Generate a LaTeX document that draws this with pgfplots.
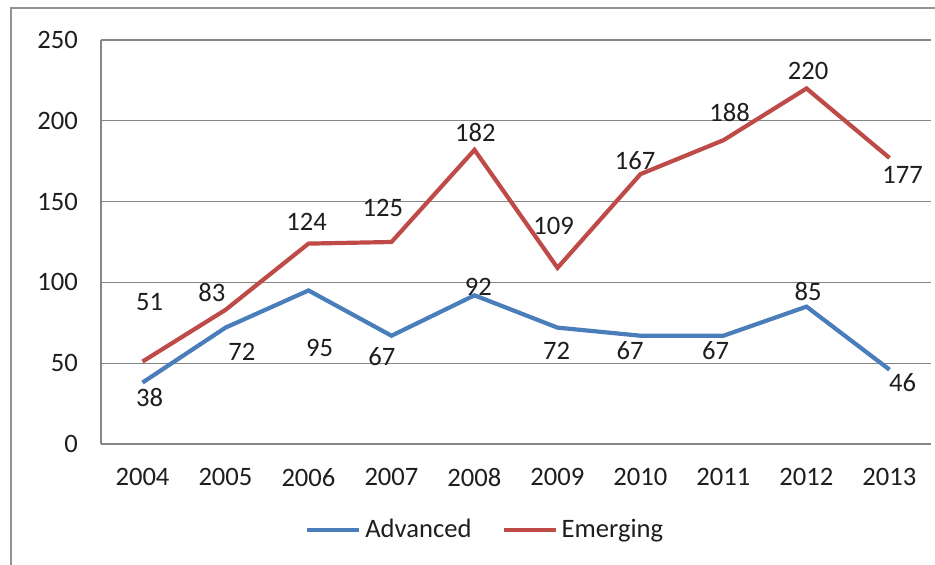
\documentclass[border=0pt]{standalone}
\usepackage{pgfplots}
\pgfplotsset{compat=1.18}
\usepackage{fontspec}
\setmainfont{Carlito}
\definecolor{advblue}{RGB}{74,126,187}
\definecolor{emred}{RGB}{190,75,72}
\definecolor{gridgray}{RGB}{134,134,134}
\definecolor{txt}{RGB}{30,30,30}
\begin{document}
\begin{tikzpicture}
\useasboundingbox (-50.5pt,-60.5pt) rectangle (417pt,222pt);
\draw[gridgray!90, line width=1.2pt] (-45pt,-70pt) -- (-45pt,218pt) -- (430pt,218pt);
\begin{axis}[
  at={(0pt,0pt)}, anchor=south west,
  scale only axis,
  width=415pt, height=202pt,
  xmin=2003.5, xmax=2013.5,
  ymin=0, ymax=250,
  xtick={2004,...,2013},
  ytick={0,50,...,250},
  xticklabel style={/pgf/number format/1000 sep={}, yshift=-8.5pt},
  yticklabel style={xshift=-8pt},
  /pgf/number format/assume math mode=true,
  tick label style={font=\fontsize{13.3}{16}\selectfont, text=txt},
  major tick length=0pt,
  ymajorgrids,
  grid style={gridgray, line width=0.6pt},
  axis x line*=bottom, axis y line*=left,
  axis line style={gridgray, line width=0.8pt, -},
  legend style={at={(axis description cs:0.464,-0.213)}, anchor=center, draw=none, fill=none,
    font=\fontsize{13.3}{16}\selectfont, text=txt, legend columns=2,
    /tikz/every even column/.append style={column sep=13pt}, inner sep=0pt},
  legend image code/.code={\draw[#1] (0pt,0pt) -- (26pt,0pt);},
  nodes near coords,
  visualization depends on={\thisrow{dx} \as \dx},
  visualization depends on={\thisrow{dy} \as \dy},
  every node near coord/.append style={anchor=center, xshift=\dx pt, yshift=\dy pt,
    font=\fontsize{13.3}{16}\selectfont, text=txt},
  point meta=explicit symbolic,
]
\addplot[advblue, line width=2.1pt, no markers] table[meta=lab] {
x y dx dy lab
2004 38 3.5 -7.7 38
2005 72 8.2 -12.2 72
2006 95 5.5 -28.7 95
2007 67 -4.8 -10.6 67
2008 92 1.9 4.2 92
2009 72 -0.4 -11.7 72
2010 67 -5.2 -7.6 67
2011 67 -4 -7.6 67
2012 85 0.8 7.8 85
2013 46 6.5 -6.6 46
};
\addlegendentry{Advanced}
\addplot[emred, line width=2.1pt, no markers] table[meta=lab] {
x y dx dy lab
2004 51 3.5 29.8 51
2005 83 -6.8 8.5 83
2006 124 -1 10.8 124
2007 125 -4.3 17 125
2008 182 0.4 8.5 182
2009 109 -1.9 21 109
2010 167 -2.7 7 167
2011 188 3 13.6 188
2012 220 0.8 8.8 220
2013 177 6.5 -8.5 177
};
\addlegendentry{Emerging}
\end{axis}
\end{tikzpicture}
\end{document}
